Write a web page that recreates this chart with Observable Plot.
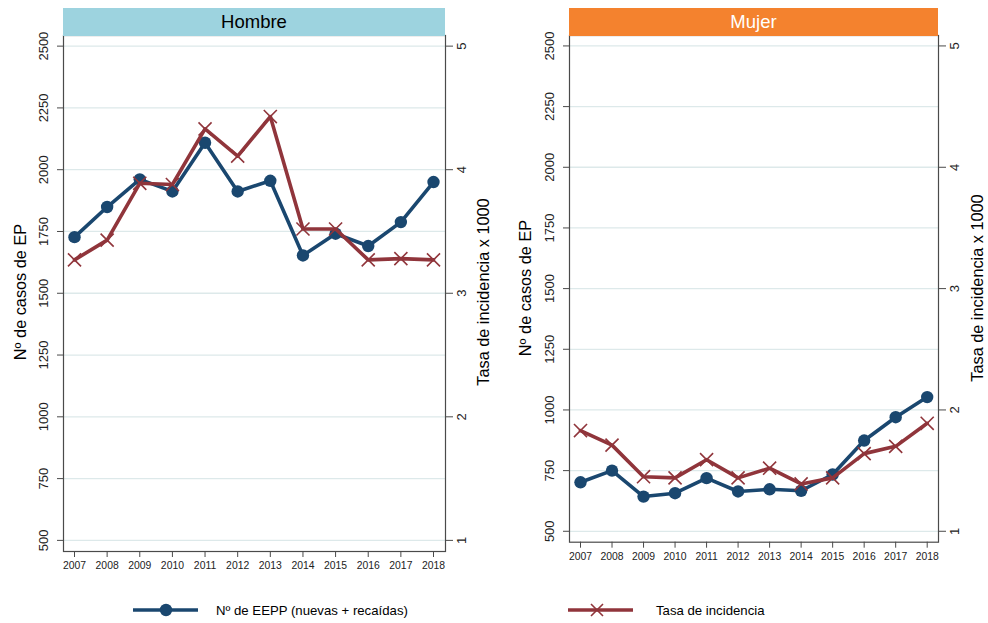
<!DOCTYPE html>
<html><head><meta charset="utf-8">
<script src="https://cdn.jsdelivr.net/npm/d3@7"></script>
<script src="https://cdn.jsdelivr.net/npm/@observablehq/plot@0.6"></script>
<style>
body{margin:0;background:#fff;font-family:"Liberation Sans",Arial,Helvetica,sans-serif;}
#chart{position:relative;width:988px;height:623px;overflow:hidden;background:#fff;}
.abs{position:absolute;left:0;top:0;}
.hdr{position:absolute;top:8px;height:27.5px;display:flex;align-items:center;justify-content:center;font-size:18.5px;}
.vt{position:absolute;white-space:nowrap;transform:translate(-50%,-50%) rotate(-90deg);font-size:16.3px;color:#000;}
.lg{position:absolute;font-size:13.2px;color:#000;white-space:nowrap;}
</style></head><body><div id="chart"></div>
<script>
const FONT = '"Liberation Sans",Arial,Helvetica,sans-serif';
const BLUE = "#1a476f", RED = "#90353b";

const years = [2007, 2008, 2009, 2010, 2011, 2012, 2013, 2014, 2015, 2016, 2017, 2018];
const hombreCasos = [1727, 1849, 1961, 1912, 2109, 1912, 1955, 1653, 1741, 1691, 1788, 1950];
const hombreTasa  = [3.27, 3.43, 3.89, 3.88, 4.33, 4.11, 4.43, 3.52, 3.52, 3.27, 3.28, 3.27];
const mujerCasos  = [702, 750, 643, 657, 719, 664, 673, 667, 734, 874, 970, 1053];
const mujerTasa   = [1.83, 1.71, 1.45, 1.44, 1.59, 1.44, 1.52, 1.39, 1.44, 1.64, 1.70, 1.89];
const casosTicks = [500, 750, 1000, 1250, 1500, 1750, 2000, 2250, 2500];
const tasaTicks = [1, 2, 3, 4, 5];
const panelNames = ["Hombre", "Mujer"];
const yTitle = "Nº de casos de EP";
const y2Title = "Tasa de incidencia x 1000";
const legendLabels = ["Nº de EEPP (nuevas + recaídas)", "Tasa de incidencia"];

const chart = document.getElementById("chart");

function panel(cfg) {
  const W = 494, H = 580;
  const common = {
    width: W, height: H,
    marginLeft: cfg.mL, marginRight: cfg.mR, marginTop: 35, marginBottom: cfg.mB,
    style: {fontFamily: FONT, background: "transparent", overflow: "visible"}
  };
  const xOpt = {type: "linear", domain: [2007, 2018], insetLeft: 11, insetRight: cfg.insR};
  const rowsC = years.map((y, i) => ({year: y, v: cfg.casos[i]}));
  const rowsT = years.map((y, i) => ({year: y, v: cfg.tasa[i]}));

  const main = Plot.plot({
    ...common,
    x: xOpt,
    y: {domain: [455, 2543]},
    marks: [
      Plot.gridY(casosTicks, {stroke: "#dde9ea", strokeOpacity: 1, strokeWidth: 1.3}),
      Plot.frame({stroke: "#4a4a4a", strokeWidth: 1.2}),
      Plot.axisY(casosTicks, {anchor: "left", tickSize: 6, tickPadding: 9.3, tickRotate: -90,
        textAnchor: "middle", lineAnchor: "bottom", fontSize: 13, label: null,
        tickFormat: d => String(d), stroke: "#4a4a4a", color: "#222"}),
      Plot.axisX(years, {anchor: "bottom", tickSize: 6, tickPadding: 4.2, fontSize: 10.4,
        label: null, tickFormat: d => String(d), stroke: "#4a4a4a", color: "#222"}),
      Plot.line(rowsC, {x: "year", y: "v", stroke: BLUE, strokeWidth: 3.6}),
      Plot.dot(rowsC, {x: "year", y: "v", fill: BLUE, r: 6.2})
    ]
  });
  main.classList.add("abs");
  main.style.left = cfg.left + "px";

  const over = Plot.plot({
    ...common,
    x: {...xOpt, axis: null},
    y: {domain: [0.91, 5.086]},
    marks: [
      Plot.axisY(tasaTicks, {anchor: "right", tickSize: 7, tickPadding: 4.4, tickRotate: -90,
        textAnchor: "middle", lineAnchor: "top", fontSize: 13, label: null,
        tickFormat: d => String(d), stroke: "#4a4a4a", color: "#222"}),
      Plot.line(rowsT, {x: "year", y: "v", stroke: RED, strokeWidth: 3.6}),
      Plot.dot(rowsT, {x: "year", y: "v", symbol: "times", stroke: RED, r: 6, strokeWidth: 1.6})
    ]
  });
  over.classList.add("abs");
  over.style.left = cfg.left + "px";

  chart.appendChild(main);
  chart.appendChild(over);

  const h = document.createElement("div");
  h.className = "hdr";
  h.style.left = cfg.hLeft + "px";
  h.style.width = cfg.hWidth + "px";
  h.style.background = cfg.hBg;
  h.style.color = cfg.hColor;
  h.textContent = cfg.name;
  chart.appendChild(h);

  const t1 = document.createElement("div");
  t1.className = "vt";
  t1.style.left = cfg.t1x + "px"; t1.style.top = cfg.ty + "px";
  t1.textContent = yTitle;
  chart.appendChild(t1);
  const t2 = document.createElement("div");
  t2.className = "vt";
  t2.style.left = cfg.t2x + "px"; t2.style.top = cfg.ty + "px";
  t2.textContent = y2Title;
  chart.appendChild(t2);
}

panel({left: 0, mL: 63, mR: 49, mB: 29, insR: 12, casos: hombreCasos, tasa: hombreTasa,
  name: panelNames[0], hLeft: 63, hWidth: 382, hBg: "#9dd3df", hColor: "#000",
  t1x: 20, t2x: 483, ty: 292});
panel({left: 494, mL: 75, mR: 50, mB: 38.3, insR: 11.3, casos: mujerCasos, tasa: mujerTasa,
  name: panelNames[1], hLeft: 569, hWidth: 369, hBg: "#f4822e", hColor: "#fff",
  t1x: 525, t2x: 977, ty: 288});

// legend
function legendItem(x, textX, kind, label) {
  const ns = "http://www.w3.org/2000/svg";
  const s = document.createElementNS(ns, "svg");
  s.setAttribute("width", 72); s.setAttribute("height", 20);
  s.style.position = "absolute"; s.style.left = x + "px"; s.style.top = "600px";
  const ln = document.createElementNS(ns, "line");
  ln.setAttribute("x1", 3); ln.setAttribute("x2", 68); ln.setAttribute("y1", 10); ln.setAttribute("y2", 10);
  ln.setAttribute("stroke", kind === "c" ? BLUE : RED); ln.setAttribute("stroke-width", 3.6);
  s.appendChild(ln);
  if (kind === "c") {
    const c = document.createElementNS(ns, "circle");
    c.setAttribute("cx", 36); c.setAttribute("cy", 10); c.setAttribute("r", 6.2); c.setAttribute("fill", BLUE);
    s.appendChild(c);
  } else {
    const p = document.createElementNS(ns, "path");
    p.setAttribute("d", "M26,4L38,16M26,16L38,4");
    p.setAttribute("stroke", RED); p.setAttribute("stroke-width", 1.6);
    s.appendChild(p);
  }
  chart.appendChild(s);
  const t = document.createElement("div");
  t.className = "lg";
  t.style.left = textX + "px"; t.style.top = "603px";
  t.textContent = label;
  chart.appendChild(t);
}
legendItem(130, 216, "c", legendLabels[0]);
legendItem(565, 656, "t", legendLabels[1]);
</script></body></html>
